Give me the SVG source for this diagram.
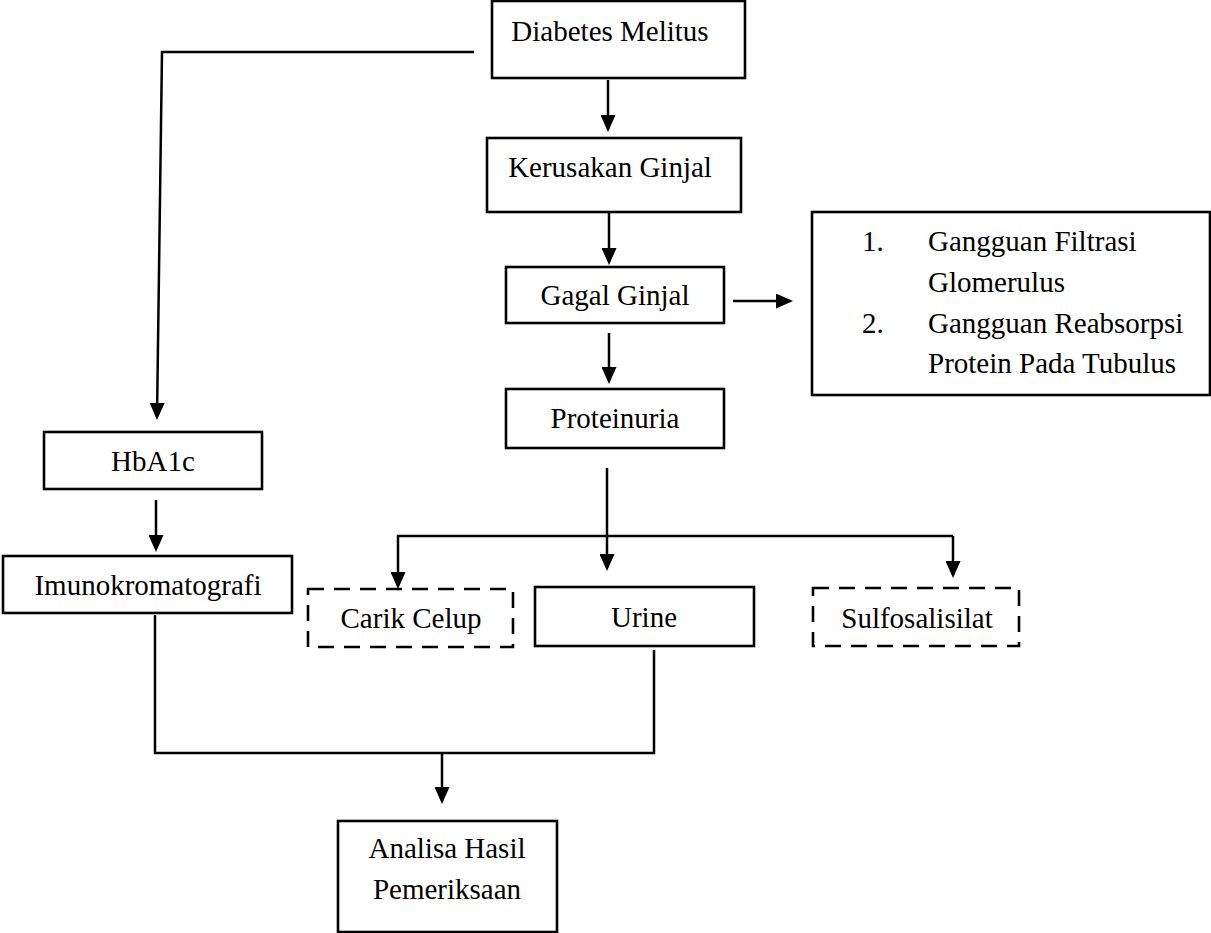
<svg xmlns="http://www.w3.org/2000/svg" width="1211" height="933" viewBox="0 0 1211 933">
<style>
.box{fill:#fff;stroke:#000;stroke-width:2.6}
.dash{fill:#fff;stroke:#000;stroke-width:2.6;stroke-dasharray:16 10}
.t{font-family:"Liberation Serif","Times New Roman",serif;font-size:29px;fill:#000}
.c{text-anchor:middle}
.ln{fill:none;stroke:#000;stroke-width:2.5;stroke-linejoin:miter}
.ar{marker-end:url(#arr)}
</style>
<defs>
<marker id="arr" markerUnits="userSpaceOnUse" markerWidth="17" markerHeight="15" viewBox="0 0 17 15" refX="14" refY="7.5" orient="auto">
<path d="M0,0 L17,7.5 L0,15 z" fill="#000"/>
</marker>
</defs>
<rect width="1211" height="933" fill="#fff"/>
<g id="connectors">
<path class="ln ar" d="M474,52 H162 L157,417"/>
<path class="ln ar" d="M608,80 V129"/>
<path class="ln ar" d="M609,213 V262"/>
<path class="ln ar" d="M733,301 H790"/>
<path class="ln ar" d="M609,333 V381"/>
<path class="ln ar" d="M607,468 V568"/>
<path class="ln ar" d="M953,536 H398 V586"/>
<path class="ln ar" d="M953,536 V575"/>
<path class="ln ar" d="M156,500 V549"/>
<path class="ln" d="M155,615 V753 H654 V650"/>
<path class="ln ar" d="M442,753 V801"/>
</g>
<g id="diabetes-melitus">
<rect class="box" x="492" y="1" width="253" height="77"/>
<text class="t c" x="610" y="41">Diabetes Melitus</text>
</g>
<g id="kerusakan-ginjal">
<rect class="box" x="487" y="138" width="254" height="74"/>
<text class="t c" x="610" y="177">Kerusakan Ginjal</text>
</g>
<g id="gagal-ginjal">
<rect class="box" x="506" y="267" width="218" height="56"/>
<text class="t c" x="615" y="305">Gagal Ginjal</text>
</g>
<g id="gangguan-list">
<rect class="box" x="812" y="212" width="398" height="183"/>
<text class="t" x="862" y="251">1.</text>
<text class="t" x="928" y="251">Gangguan Filtrasi</text>
<text class="t" x="928" y="292">Glomerulus</text>
<text class="t" x="862" y="333">2.</text>
<text class="t" x="928" y="333">Gangguan Reabsorpsi</text>
<text class="t" x="928" y="373">Protein Pada Tubulus</text>
</g>
<g id="proteinuria">
<rect class="box" x="506" y="389" width="218" height="59"/>
<text class="t c" x="615" y="428">Proteinuria</text>
</g>
<g id="hba1c">
<rect class="box" x="44" y="432" width="218" height="57"/>
<text class="t c" x="153" y="471">HbA1c</text>
</g>
<g id="imunokromatografi">
<rect class="box" x="3" y="556" width="289" height="57"/>
<text class="t c" x="148" y="595">Imunokromatografi</text>
</g>
<g id="carik-celup">
<rect class="dash" x="308" y="589" width="205" height="58"/>
<text class="t c" x="411" y="628">Carik Celup</text>
</g>
<g id="urine">
<rect class="box" x="535" y="587" width="219" height="59"/>
<text class="t c" x="644" y="627">Urine</text>
</g>
<g id="sulfosalisilat">
<rect class="dash" x="813" y="588" width="206" height="58"/>
<text class="t c" x="917" y="628">Sulfosalisilat</text>
</g>
<g id="analisa-hasil">
<rect class="box" x="338" y="821" width="219" height="111"/>
<text class="t c" x="447" y="858">Analisa Hasil</text>
<text class="t c" x="447" y="899">Pemeriksaan</text>
</g>
</svg>
